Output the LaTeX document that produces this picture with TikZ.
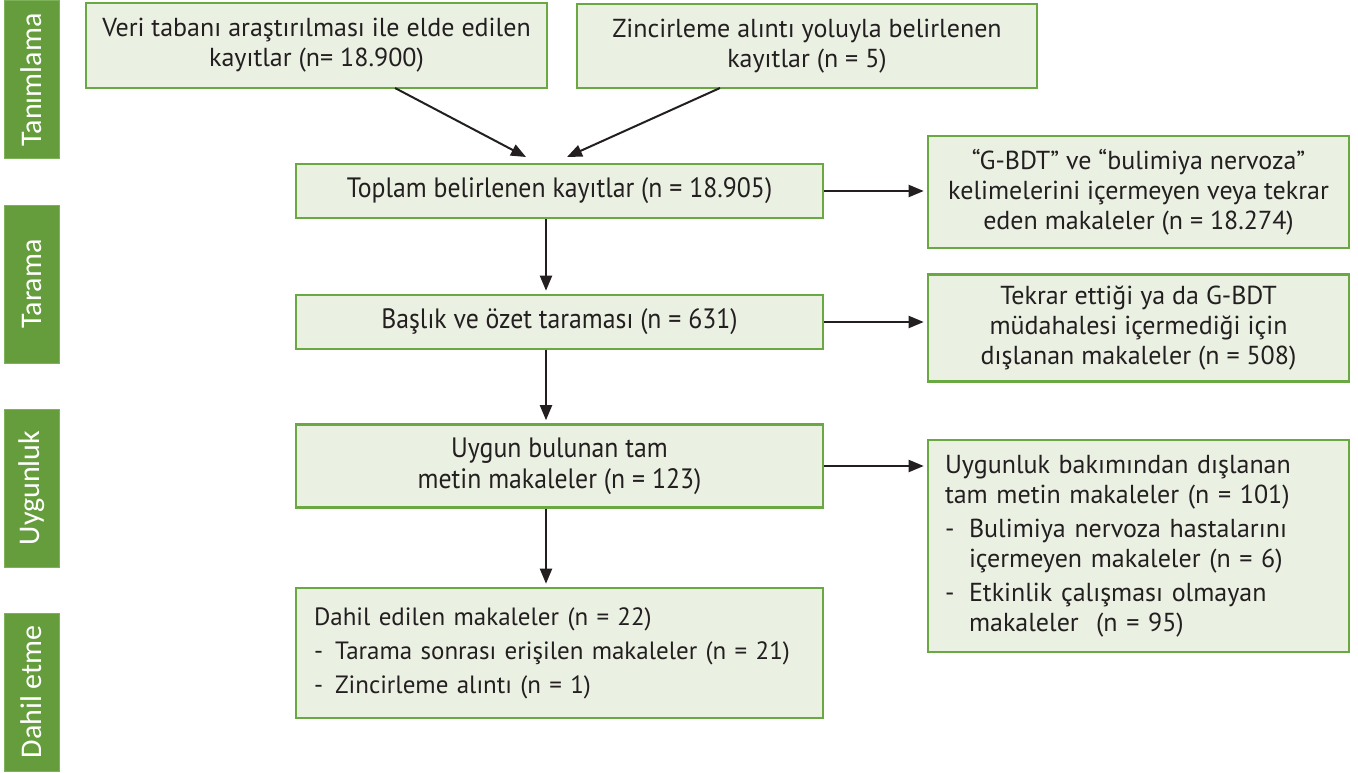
\documentclass[tikz,border=0pt]{standalone}
\usepackage{fontspec}
\setmainfont{PT Sans}
\newfontfamily\condfont[FakeStretch=0.92]{PT Sans}
\newfontfamily\tabfont{Carlito}
\usetikzlibrary{arrows.meta}
\definecolor{tabgreen}{RGB}{101,157,61}
\definecolor{tabedge}{RGB}{125,178,88}
\definecolor{boxedge}{RGB}{106,168,66}
\definecolor{boxfill}{RGB}{234,240,226}
\definecolor{ink}{RGB}{35,31,32}
\begin{document}
\begin{tikzpicture}[x=1pt,y=-1pt,
  box/.style={draw=boxedge, fill=boxfill, line width=2.6pt, text=ink, inner sep=0pt, align=center, font=\fontsize{26}{30}\selectfont},
  condbox/.style={box, font=\condfont\fontsize{28}{31}\selectfont},
  tab/.style={fill=tabgreen, draw=tabedge, line width=1pt, minimum width=158pt, minimum height=55pt, inner sep=0pt, rotate=90, text=white, font=\tabfont\fontsize{30}{34}\selectfont},
  arr/.style={-{Triangle[length=15pt,width=12pt]}, line width=2pt, draw=ink, shorten >=3pt}
]
\fill[white] (0,0) rectangle (1358,773);
\useasboundingbox (0,0) rectangle (1358,773);

% stage tabs
\node[tab] (t1) at (31.5,80) {Tanımlama};
\node[tab] (t2) at (31.5,284) {Tarama};
\node[tab] (t3) at (31.5,488) {Uygunluk};
\node[tab] (t4) at (31.5,692) {Dahil etme};

% boxes
\node[box, minimum width=461pt, minimum height=85pt] (A) at (316.5,45.5)
  {Veri tabanı araştırılması ile elde edilen\\kayıtlar (n= 18.900)};
\node[box, minimum width=460pt, minimum height=84pt] (B) at (807,46)
  {Zincirleme alıntı yoluyla belirlenen\\kayıtlar (n = 5)};
\node[condbox, minimum width=527pt, minimum height=54pt] (C) at (559.5,191)
  {Toplam belirlenen kayıtlar (n = 18.905)};
\node[box, minimum width=421pt, minimum height=112pt] (D) at (1138.5,192)
  {“G-BDT” ve “bulimiya nervoza”\\kelimelerini içermeyen veya tekrar\\eden makaleler (n = 18.274)};
\node[condbox, minimum width=527pt, minimum height=54pt] (E) at (559.5,322)
  {Başlık ve özet taraması (n = 631)};
\node[box, minimum width=421pt, minimum height=107pt] (F) at (1138.5,328)
  {Tekrar ettiği ya da G-BDT\\müdahalesi içermediği için\\dışlanan makaleler (n = 508)};
\node[condbox, minimum width=527pt, minimum height=83pt] (G) at (559.5,466)
  {Uygun bulunan tam\\metin makaleler (n = 123)};
\node[box, minimum width=421pt, minimum height=212pt, text width=387pt, inner xsep=17pt, align=left] (H) at (1138.5,546)
  {Uygunluk bakımından dışlanan\\
   tam metin makaleler (n = 101)\\[4pt]
   \makebox[24pt][l]{-}Bulimiya nervoza hastalarını\\
   \hspace*{24pt}içermeyen makaleler (n = 6)\\[4pt]
   \makebox[24pt][l]{-}Etkinlik çalışması olmayan\\
   \hspace*{24pt}makaleler~~(n = 95)};
\node[box, minimum width=527pt, minimum height=130pt, text width=491pt, inner xsep=18pt, align=left, font=\fontsize{25}{30}\selectfont] (I) at (559.5,653)
  {Dahil edilen makaleler (n = 22)\\[4pt]
   \makebox[21pt][l]{-}Tarama sonrası erişilen makaleler (n = 21)\\[4pt]
   \makebox[21pt][l]{-}Zincirleme alıntı (n = 1)};

% connectors
\coordinate (a1) at (395,88);
\coordinate (c1) at (526,157);
\coordinate (b1) at (720,88);
\coordinate (c2) at (567,157);
\coordinate (vx) at (546,0);
\draw[arr, shorten >=0pt] (a1) -- (c1);
\draw[arr, shorten >=0pt] (b1) -- (c2);
\draw[arr] (C.south -| vx) -- (E.north -| vx);
\draw[arr] (E.south -| vx) -- (G.north -| vx);
\draw[arr] (G.south -| vx) -- (I.north -| vx);
\draw[arr] (C.east) -- (C.east -| D.west);
\draw[arr] (E.east) -- (E.east -| F.west);
\draw[arr] (G.east) -- (G.east -| H.west);
\end{tikzpicture}
\end{document}
